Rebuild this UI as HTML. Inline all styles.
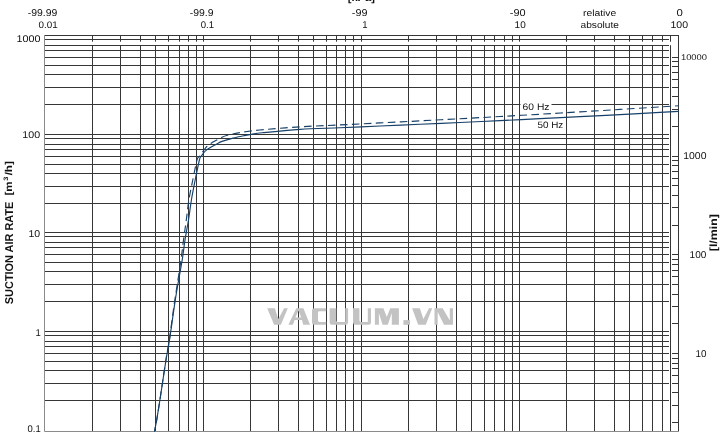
<!DOCTYPE html>
<html><head><meta charset="utf-8"><style>
html,body{margin:0;padding:0;background:#fff;}
svg{display:block;will-change:transform;}
text{font-family:"Liberation Sans", sans-serif;fill:#111;text-rendering:geometricPrecision;}
</style></head><body>
<svg width="722" height="435" viewBox="0 0 722 435">
<path d="M44.5 400.5H669 M44.5 383.5H669 M44.5 370.5H669 M44.5 361.5H669 M44.5 353.5H669 M44.5 346.5H669 M44.5 341.5H669 M44.5 335.5H669 M44.5 331.5H669 M44.5 301.5H669 M44.5 284.5H669 M44.5 271.5H669 M44.5 262.5H669 M44.5 254.5H669 M44.5 247.5H669 M44.5 242.5H669 M44.5 236.5H669 M44.5 232.5H669 M44.5 203.5H669 M44.5 186.5H669 M44.5 173.5H669 M44.5 164.5H669 M44.5 156.5H669 M44.5 149.5H669 M44.5 144.5H669 M44.5 138.5H669 M44.5 134.5H669 M44.5 104.5H669 M44.5 87.5H669 M44.5 74.5H669 M44.5 65.5H669 M44.5 57.5H669 M44.5 50.5H669 M44.5 45.5H669 M44.5 39.5H669 M44.5 35.5H678.5" stroke="#363636" stroke-width="1" fill="none"/>
<path d="M92.5 35.5V41.7M92.5 45.2V431.5 M120.5 35.5V41.7M120.5 45.2V431.5 M140.5 35.5V41.7M140.5 45.2V431.5 M155.5 35.5V41.7M155.5 45.2V431.5 M168.5 35.5V41.7M168.5 45.2V431.5 M179.5 35.5V41.7M179.5 45.2V431.5 M188.5 35.5V41.7M188.5 45.2V431.5 M196.5 35.5V41.7M196.5 45.2V431.5 M203.5 35.5V41.7M203.5 45.2V431.5 M250.5 35.5V41.7M250.5 45.2V431.5 M278.5 35.5V41.7M278.5 45.2V431.5 M298.5 35.5V41.7M298.5 45.2V431.5 M313.5 35.5V41.7M313.5 45.2V431.5 M326.5 35.5V41.7M326.5 45.2V431.5 M336.5 35.5V41.7M336.5 45.2V431.5 M345.5 35.5V41.7M345.5 45.2V431.5 M353.5 35.5V41.7M353.5 45.2V431.5 M361.5 35.5V41.7M361.5 45.2V431.5 M408.5 35.5V41.7M408.5 45.2V431.5 M436.5 35.5V41.7M436.5 45.2V431.5 M456.5 35.5V41.7M456.5 45.2V431.5 M471.5 35.5V41.7M471.5 45.2V431.5 M484.5 35.5V41.7M484.5 45.2V431.5 M494.5 35.5V41.7M494.5 45.2V431.5 M504.5 35.5V41.7M504.5 45.2V431.5 M512.5 35.5V41.7M512.5 45.2V431.5 M519.5 35.5V41.7M519.5 45.2V431.5 M566.5 35.5V41.7M566.5 45.2V431.5 M594.5 35.5V41.7M594.5 45.2V431.5 M614.5 35.5V41.7M614.5 45.2V431.5 M629.5 35.5V41.7M629.5 45.2V431.5 M642.5 35.5V41.7M642.5 45.2V431.5 M652.5 35.5V41.7M652.5 45.2V431.5 M662.5 35.5V41.7M662.5 45.2V431.5 M670.5 35.5V41.7M670.5 45.2V431.5" stroke="#363636" stroke-width="1" fill="none"/>
<path d="M678.5 35V431.5" stroke="#363636" stroke-width="1" fill="none"/>
<path d="M44.5 35V431.5H678.5" stroke="#8a8a8a" stroke-width="1" fill="none"/>
<path d="M672 422.5H678.5 M672 405.5H678.5 M672 392.5H678.5 M672 383.5H678.5 M672 375.5H678.5 M672 368.5H678.5 M672 363.5H678.5 M672 358.5H678.5 M672 353.5H678.5 M672 323.5H678.5 M672 306.5H678.5 M672 294.5H678.5 M672 284.5H678.5 M672 276.5H678.5 M672 270.5H678.5 M672 264.5H678.5 M672 259.5H678.5 M672 254.5H678.5 M672 225.5H678.5 M672 207.5H678.5 M672 195.5H678.5 M672 185.5H678.5 M672 178.5H678.5 M672 171.5H678.5 M672 165.5H678.5 M672 160.5H678.5 M672 156.5H678.5 M672 126.5H678.5 M672 109.5H678.5 M672 96.5H678.5 M672 87.5H678.5 M672 79.5H678.5 M672 72.5H678.5 M672 66.5H678.5 M672 61.5H678.5 M672 57.5H678.5" stroke="#363636" stroke-width="1" fill="none"/>
<g fill="#c3c3c3" fill-rule="evenodd" stroke="none">
<path d="M267.2 308.3H274.8L278.4 319.0L284.1 308.3H287.8L280.9 324.8H274.1Z"/>
<path d="M288.4 324.8L296.3 308.3H303.4L310.0 324.8H303.2L302.0 320.1H294.6L292.9 324.8ZM295.3 317.4H301.2L298.5 310.8Z"/>
<path d="M326.2 308.3H314.3Q312 308.3 312 310.6V322.5Q312 324.8 314.3 324.8H326.2V321.9H319.4Q318 321.9 318 320.5V312.6Q318 311.2 319.4 311.2H326.2Z"/>
<path d="M329.6 308.3H336.3V320.5Q336.3 321.9 337.7 321.9H345.2V308.3H348.1V322.5Q348.1 324.8 345.8 324.8H331.9Q329.6 324.8 329.6 322.5Z"/>
<path d="M353 308.3H359.4V320.5Q359.4 321.9 360.8 321.9H367.8V308.3H371V322.5Q371 324.8 368.7 324.8H355.3Q353 324.8 353 322.5Z"/>
<path d="M374.9 308.3H383.4L386.8 316.9L390.2 308.3H398.9V324.8H391.8V313.0L387.8 324.8H382.6L378.9 313.0V324.8H374.9Z"/>
<path d="M403.4 320.1H410V324.8H403.4Z"/>
<path d="M412.1 308.3H419.8L423.4 319.1L429.0 308.3H432.2L425.8 324.8H418.2Z"/>
<path d="M434.5 308.3H442.7L449.8 320.5V308.3H453V324.8H444L437.7 312V324.8H434.5Z"/>
</g>
<path d="M154.50 431.50 C154.87 429.58 155.80 425.25 156.70 420.00 C157.60 414.75 158.35 410.00 159.90 400.00 C161.45 390.00 164.40 370.00 166.00 360.00 C167.60 350.00 168.20 348.33 169.50 340.00 C170.80 331.67 172.57 318.33 173.80 310.00 C175.03 301.67 175.50 298.33 176.90 290.00 C178.30 281.67 180.85 268.33 182.20 260.00 C183.55 251.67 183.95 246.67 185.00 240.00 C186.05 233.33 187.43 226.67 188.50 220.00 C189.57 213.33 190.28 206.67 191.40 200.00 C192.52 193.33 193.87 186.67 195.20 180.00 C196.53 173.33 198.40 163.95 199.40 160.00 C200.40 156.05 200.48 157.50 201.20 156.30 C201.92 155.10 202.83 153.83 203.70 152.80 C204.57 151.77 205.15 151.07 206.40 150.10 C207.65 149.13 209.47 148.03 211.20 147.00 C212.93 145.97 215.00 144.83 216.80 143.90 C218.60 142.97 219.28 142.37 222.00 141.40 C224.72 140.43 229.40 139.07 233.10 138.10 C236.80 137.13 241.33 136.20 244.20 135.60 C247.07 135.00 247.33 134.97 250.30 134.50 C253.27 134.03 253.72 133.66 262.00 132.80 C270.28 131.94 287.00 130.16 300.00 129.31 C313.00 128.47 326.67 128.26 340.00 127.71 C353.33 127.17 366.67 126.61 380.00 126.04 C393.33 125.47 406.67 124.89 420.00 124.30 C433.33 123.71 446.67 123.11 460.00 122.49 C473.33 121.88 486.67 121.25 500.00 120.61 C513.33 119.98 526.67 119.33 540.00 118.67 C553.33 118.00 566.67 117.33 580.00 116.65 C593.33 115.96 606.67 115.27 620.00 114.56 C633.33 113.86 650.25 112.94 660.00 112.41 C669.75 111.88 675.42 111.56 678.50 111.39" stroke="#174068" stroke-width="1.15" fill="none"/>
<path d="M154.50 431.50 C154.87 429.58 155.80 425.25 156.70 420.00 C157.60 414.75 158.37 410.00 159.90 400.00 C161.43 390.00 164.33 370.00 165.90 360.00 C167.47 350.00 168.05 348.33 169.30 340.00 C170.55 331.67 172.22 318.33 173.40 310.00 C174.58 301.67 175.13 298.33 176.40 290.00 C177.67 281.67 179.82 268.33 181.00 260.00 C182.18 251.67 182.62 246.67 183.50 240.00 C184.38 233.33 185.40 226.67 186.30 220.00 C187.20 213.33 187.82 206.67 188.90 200.00 C189.98 193.33 191.45 186.67 192.80 180.00 C194.15 173.33 195.88 163.95 197.00 160.00 C198.12 156.05 198.50 157.73 199.50 156.30 C200.50 154.87 201.78 153.03 203.00 151.40 C204.22 149.77 205.43 147.87 206.80 146.50 C208.17 145.13 209.43 144.33 211.20 143.20 C212.97 142.07 215.60 140.70 217.40 139.70 C219.20 138.70 220.32 137.93 222.00 137.20 C223.68 136.47 225.00 135.98 227.50 135.30 C230.00 134.62 233.58 133.75 237.00 133.10 C240.42 132.45 244.22 131.92 248.00 131.40 C251.78 130.88 251.03 130.76 259.70 130.00 C268.37 129.24 286.62 127.67 300.00 126.82 C313.38 125.97 326.67 125.56 340.00 124.92 C353.33 124.27 366.67 123.61 380.00 122.93 C393.33 122.26 406.67 121.57 420.00 120.87 C433.33 120.17 446.67 119.46 460.00 118.74 C473.33 118.01 486.67 117.28 500.00 116.53 C513.33 115.78 526.67 115.01 540.00 114.24 C553.33 113.46 566.67 112.67 580.00 111.87 C593.33 111.07 606.67 110.26 620.00 109.43 C633.33 108.60 650.25 107.53 660.00 106.91 C669.75 106.29 675.42 105.92 678.50 105.72" stroke="#174068" stroke-width="1.15" fill="none" stroke-dasharray="7.6 4.382" stroke-dashoffset="2.90"/>
<text transform="matrix(0.10436 0 0 0.09930 27.783 16.001)" font-size="100" font-weight="normal">-99.99</text><text transform="matrix(0.09892 0 0 0.09437 38.404 27.606)" font-size="100" font-weight="normal">0.01</text><text transform="matrix(0.10434 0 0 0.09930 189.683 16.001)" font-size="100" font-weight="normal">-99.9</text><text transform="matrix(0.09538 0 0 0.09648 200.818 27.604)" font-size="100" font-weight="normal">0.1</text><text transform="matrix(0.10882 0 0 0.09930 351.765 16.001)" font-size="100" font-weight="normal">-99</text><text transform="matrix(0.09535 0 0 0.09928 362.337 27.700)" font-size="100" font-weight="normal">1</text><text transform="matrix(0.10949 0 0 0.09930 509.762 16.001)" font-size="100" font-weight="normal">-90</text><text transform="matrix(0.10000 0 0 0.09648 514.600 27.604)" font-size="100" font-weight="normal">10</text><text transform="matrix(0.10322 0 0 0.09054 582.977 15.959)" font-size="100" font-weight="normal">relative</text><text transform="matrix(0.10108 0 0 0.09459 580.596 27.505)" font-size="100" font-weight="normal">absolute</text><text transform="matrix(0.11458 0 0 0.09930 676.442 16.001)" font-size="100" font-weight="normal">0</text><text transform="matrix(0.10581 0 0 0.09648 670.454 27.604)" font-size="100" font-weight="normal">100</text><text transform="matrix(0.10714 0 0 0.09789 16.543 41.752)" font-size="100" font-weight="normal">1000</text><text transform="matrix(0.10645 0 0 0.09718 22.348 137.803)" font-size="100" font-weight="normal">100</text><text transform="matrix(0.10505 0 0 0.09859 28.460 236.901)" font-size="100" font-weight="normal">10</text><text transform="matrix(0.09535 0 0 0.09783 35.437 335.850)" font-size="100" font-weight="normal">1</text><text transform="matrix(0.09462 0 0 0.09718 27.522 431.803)" font-size="100" font-weight="normal">0.1</text><text transform="matrix(0.09361 0 0 0.08169 680.951 59.818)" font-size="100" font-weight="normal">10000</text><text transform="matrix(0.10405 0 0 0.09859 683.268 158.901)" font-size="100" font-weight="normal">1000</text><text transform="matrix(0.10032 0 0 0.10000 689.597 257.900)" font-size="100" font-weight="normal">100</text><text transform="matrix(0.09899 0 0 0.10000 695.508 356.900)" font-size="100" font-weight="normal">10</text><rect x="520.5" y="100" width="31" height="10" fill="#fff"/><text transform="matrix(0.10299 0 0 0.09507 522.585 109.805)" font-size="100" font-weight="normal">60 Hz</text><text transform="matrix(0.09881 0 0 0.09296 537.405 127.907)" font-size="100" font-weight="normal">50 Hz</text><text transform="matrix(0.11116 0 0 0.11116 347.733 0.766)" font-size="100" font-weight="bold">[kPa]</text><text transform="matrix(0 -0.10923 0.11408 0 12.886 304.178)" font-size="100" font-weight="bold">SUCTION AIR RATE</text><text transform="matrix(0 -0.11585 0.10000 0 11.700 195.495)" font-size="100" font-weight="bold">[m<tspan font-size='64' dy='-36' dx='4'>3</tspan><tspan dy='36' dx='12'>/h]</tspan></text><text transform="matrix(0 -0.12396 0.10426 0 717.011 251.244)" font-size="100" font-weight="bold">[l/min]</text>
</svg>
</body></html>
